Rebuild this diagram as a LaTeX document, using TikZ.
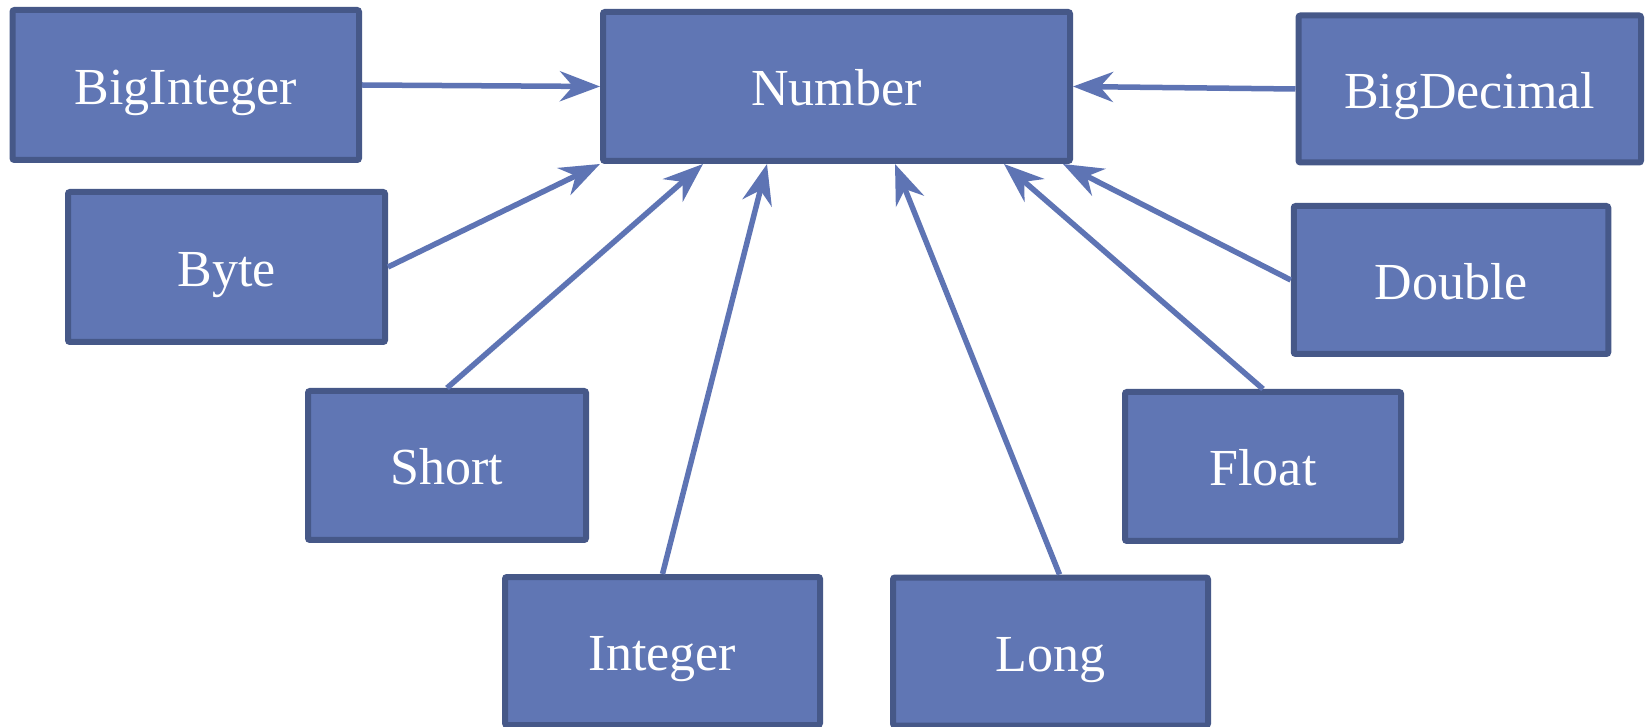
\documentclass[tikz,border=0pt]{standalone}
\usepackage{fontspec}
\setmainfont{Liberation Serif}
\usetikzlibrary{arrows.meta}
\definecolor{boxfill}{RGB}{96,118,180}
\definecolor{boxline}{RGB}{70,88,136}
\definecolor{arrcol}{RGB}{94,116,180}
\pgfdeclareradialshading{bgshade}{\pgfpoint{0bp}{0bp}}{color(0bp)=(white); color(28bp)=(white); color(50bp)=(black!9)}
\tikzset{
  cls/.style={draw=boxline, fill=boxfill, line width=3pt, rounded corners=1pt,
    text=white, font=\fontsize{26}{30}\selectfont, inner sep=0pt, align=center,
    text height=22pt, text depth=2.5pt},
  arr/.style={draw=arrcol, line width=2.75pt,
    -{Stealth[length=20pt,width=15pt,inset=6.5pt]}}
}
\begin{document}
\begin{tikzpicture}[x=0.5pt,y=-0.5pt]
\useasboundingbox (0,0) rectangle (1646,727);
\begin{scope}
\clip (0,0) rectangle (1646,727);
\fill[white] (0,0) rectangle (1646,727);
\shade[shading=bgshade] (880,120) circle [radius=1150];
\end{scope}
\node[cls, minimum width=173.25pt, minimum height=75pt] (bigint) at (185.75,85) {BigInteger};
\node[cls, minimum width=233.5pt, minimum height=74.5pt] (num) at (836.5,86.5) {Number};
\node[cls, minimum width=171.25pt, minimum height=73.5pt] (bigdec) at (1469.75,89) {BigDecimal};
\node[cls, minimum width=158.5pt, minimum height=75pt] (byte) at (226.5,267) {Byte};
\node[cls, minimum width=157.25pt, minimum height=74pt] (double) at (1451,280) {Double};
\node[cls, minimum width=139pt, minimum height=74.5pt] (short) at (447,465.5) {Short};
\node[cls, minimum width=138pt, minimum height=74.5pt] (float) at (1263,466.5) {Float};
\node[cls, minimum width=157.5pt, minimum height=74pt] (integer) at (662.5,651) {Integer};
\node[cls, minimum width=157.5pt, minimum height=74pt] (long) at (1050.5,651.5) {Long};
\coordinate (tshort) at (703,164);
\coordinate (tint) at (767,164);
\coordinate (tlong) at (895,164);
\coordinate (tfloat) at (1004,164);
\coordinate (tdouble) at (1063,164);
\draw[arr] (bigint.east) -- (num.west);
\draw[arr] (bigdec.west) -- (num.east);
\draw[arr] (byte.east) -- (num.south west);
\draw[arr] (short.north) -- (tshort);
\draw[arr] (integer.north) -- (tint);
\draw[arr] ([xshift=4.5pt]long.north) -- (tlong);
\draw[arr] (float.north) -- (tfloat);
\draw[arr] (double.west) -- (tdouble);
\end{tikzpicture}
\end{document}
